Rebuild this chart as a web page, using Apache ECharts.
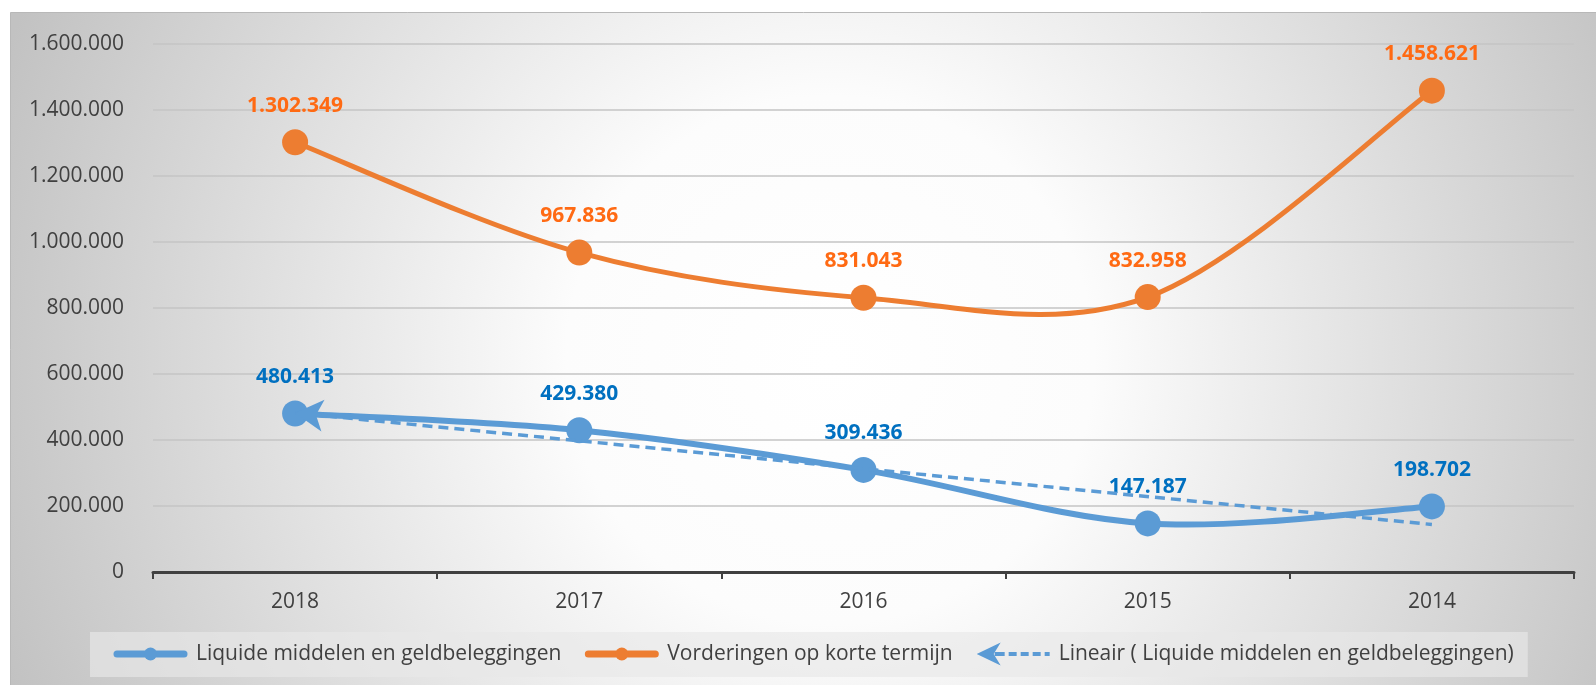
<!DOCTYPE html>
<html>
<head>
<meta charset="utf-8">
<script src="https://cdn.jsdelivr.net/npm/echarts@6/dist/echarts.min.js"></script>
<style>
  html, body { margin: 0; padding: 0; background: #fff; }
  #chart { width: 1596px; height: 685px; }
</style>
</head>
<body>
<div id="chart"></div>
<script>
// data
var years = ['2018', '2017', '2016', '2015', '2014'];
var liquide = [480413, 429380, 309436, 147187, 198702];
var vorderingen = [1302349, 967836, 831043, 832958, 1458621];
var lineair = [482000, 397500, 313000, 228500, 144000];   // trendline of liquide
var yMax = 1600000;
var yStep = 200000;

var names = [
  'Liquide middelen en geldbeleggingen',
  'Vorderingen op korte termijn',
  'Lineair ( Liquide middelen en geldbeleggingen)'
];

var BLUE = '#5B9BD5', ORANGE = '#ED7D31';
var FONT = '"Open Sans", "Noto Sans", sans-serif';

function dots(v) {
  return String(v).replace(/\B(?=(\d{3})+(?!\d))/g, '.');
}

function svgIcon(inner) {
  var s = "<svg xmlns='http://www.w3.org/2000/svg' width='75' height='26' viewBox='0 0 75 26'>" + inner + "</svg>";
  return 'image://data:image/svg+xml;charset=utf-8,' + encodeURIComponent(s);
}
function lineIcon(c) {
  return svgIcon("<line x1='4' y1='13' x2='71' y2='13' stroke='" + c + "' stroke-width='7' stroke-linecap='round'/>" +
    "<circle cx='37.5' cy='13' r='6.5' fill='" + c + "'/>");
}
var trendIcon = svgIcon(
  "<path d='M1 13 L25 1.5 L18 13 L25 24.5 Z' fill='" + BLUE + "'/>" +
  "<path d='M19 13 H29 M33 13 H41 M45 13 H53 M57 13 H65 M69 13 H74' stroke='" + BLUE + "' stroke-width='4'/>");

// smooth curve like the spreadsheet one: bezier through the points, drawn with the axis scales
function curveSeries(values, color, width) {
  return {
    type: 'custom',
    name: 'curve-' + color,
    data: values.map(function (v, i) { return [i, v]; }),
    encode: { x: 0, y: 1 },
    z: 1,
    silent: true,
    renderItem: function (params, api) {
      var i = params.dataIndexInside, n = params.dataInsideLength;
      if (i >= n - 1) return null;
      var pt = function (k) {
        k = Math.max(0, Math.min(n - 1, k));
        return api.coord([api.value(0, k), api.value(1, k)]);
      };
      var p0 = pt(i - 1), p1 = pt(i), p2 = pt(i + 1), p3 = pt(i + 2);
      return {
        type: 'bezierCurve',
        shape: {
          x1: p1[0], y1: p1[1], x2: p2[0], y2: p2[1],
          cpx1: p1[0] + (p2[0] - p0[0]) / 6, cpy1: p1[1] + (p2[1] - p0[1]) / 6,
          cpx2: p2[0] - (p3[0] - p1[0]) / 6, cpy2: p2[1] - (p3[1] - p1[1]) / 6
        },
        style: { stroke: color, lineWidth: width, fill: null, lineCap: 'round' }
      };
    }
  };
}

var chart = echarts.init(document.getElementById('chart'));

var labelBase = {
  show: true,
  position: 'top',
  distance: 13,
  fontFamily: FONT,
  fontWeight: 'bold',
  fontSize: 21,
  formatter: function (p) { return dots(p.value); }
};

chart.setOption({
  animation: false,
  backgroundColor: '#ffffff',
  graphic: [{
    type: 'rect',
    z: -10,
    silent: true,
    shape: { x: 10.5, y: 12.5, width: 1590, height: 680 },
    style: {
      fill: new echarts.graphic.RadialGradient(830, 360, 880, [
        { offset: 0, color: '#ffffff' },
        { offset: 0.3, color: '#fcfcfc' },
        { offset: 1, color: '#c2c2c2' }
      ], true),
      stroke: '#b8b8b8',
      lineWidth: 1
    }
  }],
  grid: { left: 153, right: 22, top: 44, bottom: 113 },
  xAxis: {
    type: 'category',
    data: years,
    boundaryGap: true,
    axisLine: { lineStyle: { color: '#404040', width: 3 } },
    axisTick: { show: true, length: 7, lineStyle: { color: '#404040', width: 2 } },
    axisLabel: { color: '#404040', fontFamily: FONT, fontSize: 21, margin: 20 }
  },
  yAxis: {
    type: 'value',
    min: 0,
    max: yMax,
    interval: yStep,
    axisLine: { show: false },
    axisTick: { show: false },
    splitLine: { lineStyle: { color: '#c4c4c4', width: 1.5 } },
    axisLabel: { color: '#404040', fontFamily: FONT, fontSize: 21, margin: 29, formatter: dots }
  },
  legend: {
    left: 90,
    top: 632,
    padding: [9, 14, 10, 23],
    itemWidth: 75,
    itemHeight: 26,
    itemGap: 23,
    backgroundColor: 'rgba(232,232,232,0.65)',
    textStyle: { color: '#404040', fontFamily: FONT, fontSize: 21, padding: [0, 0, 0, 3] },
    data: [
      { name: names[0], icon: lineIcon(BLUE) },
      { name: names[1], icon: lineIcon(ORANGE) },
      { name: names[2], icon: trendIcon }
    ]
  },
  series: [
    curveSeries(liquide, BLUE, 6),
    curveSeries(vorderingen, ORANGE, 5),
    {
      name: names[0],
      type: 'line',
      data: liquide,
      symbol: 'circle',
      symbolSize: 26,
      lineStyle: { color: BLUE, width: 6, opacity: 0 },
      itemStyle: { color: BLUE },
      label: Object.assign({ color: '#0070C0' }, labelBase)
    },
    {
      name: names[1],
      type: 'line',
      data: vorderingen,
      symbol: 'circle',
      symbolSize: 26,
      lineStyle: { color: ORANGE, width: 5, opacity: 0 },
      itemStyle: { color: ORANGE },
      label: Object.assign({ color: '#FF6A13' }, labelBase)
    },
    {
      name: names[2],
      type: 'line',
      data: lineair,
      symbol: 'none',
      itemStyle: { color: BLUE },
      lineStyle: { color: BLUE, width: 3.5, opacity: 0 },
      markLine: {
        silent: true,
        symbol: ['arrow', 'none'],
        symbolSize: [24, 28],
        label: { show: false },
        lineStyle: { color: BLUE, width: 3.5, type: [10, 6] },
        emphasis: { disabled: true },
        data: [[
          { coord: [0, lineair[0]] },
          { coord: [lineair.length - 1, lineair[lineair.length - 1]] }
        ]]
      }
    }
  ]
});
</script>
</body>
</html>
